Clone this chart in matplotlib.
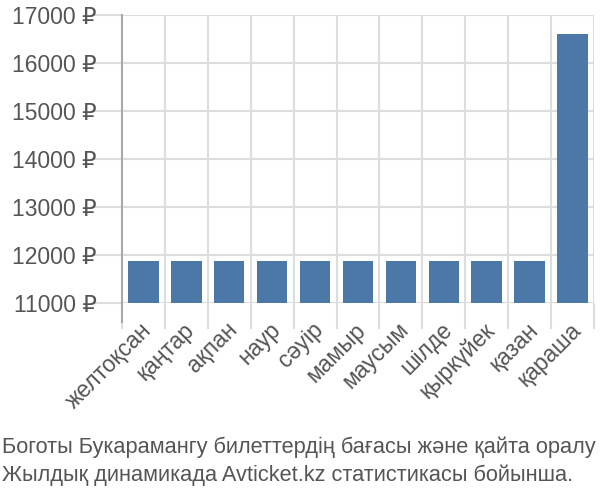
import matplotlib
matplotlib.use("Agg")
import matplotlib.pyplot as plt
import numpy as np

months = ["желтоқсан", "қаңтар", "ақпан", "наур", "сәуір", "мамыр",
          "маусым", "шілде", "қыркүйек", "қазан", "қараша"]
prices = [11870, 11870, 11870, 11870, 11870, 11870, 11870, 11870, 11870, 11870, 16600]
yticks = [11000, 12000, 13000, 14000, 15000, 16000, 17000]
caption = ["Боготы Букарамангу билеттердің бағасы және қайта оралу",
           "Жылдық динамикада Avticket.kz статистикасы бойынша."]

plt.rcParams['font.family'] = ['Liberation Sans', 'DejaVu Sans']
fig = plt.figure(figsize=(6, 5), dpi=100)
ax = fig.add_axes([0.2033, 0.394, 0.7867, 0.576])
x = np.arange(len(months))
base = 11000
ax.bar(x, np.array(prices) - base, bottom=base, width=0.71, color='#4c78a8', zorder=3)
ax.set_xlim(-0.5, len(months) - 0.5)
ax.set_ylim(11000, 17000)
ax.set_yticks(yticks)
ax.set_yticklabels([f"{v} ₽" for v in yticks])
ax.set_xticks(x - 0.08)
ax.set_xticklabels(months, rotation=45, ha='right', va='top', rotation_mode='anchor')
ax.set_xticks(np.arange(len(months) + 1) - 0.5, minor=True)
ax.tick_params(axis='x', which='major', length=0, pad=11, labelsize=16.5, labelcolor='#555555')
ax.tick_params(axis='x', which='minor', length=19, color='#dddddd', width=1.5)
ax.tick_params(axis='y', which='major', length=22, color='#dddddd', width=1.5, labelsize=16.5, labelcolor='#555555', pad=-4)
ax.grid(True, axis='y', which='major', color='#dddddd', linewidth=1.5, zorder=0)
ax.grid(True, axis='x', which='minor', color='#dddddd', linewidth=1.5, zorder=0)
for s in ['top', 'right', 'bottom']:
    ax.spines[s].set_visible(False)
ax.spines['left'].set_color('#aaaaaa')
ax.spines['left'].set_linewidth(1.5)
ax.spines['left'].set_bounds(11000, 17000)
ax.plot([-0.5, -0.5], [0, -0.066], transform=ax.get_xaxis_transform(), color='#aaaaaa', lw=1.5, clip_on=False, zorder=4)

fig.text(0.003, 1 - 447/500, caption[0], fontsize=15.7, color='#555555', va='center', ha='left')
fig.text(0.003, 1 - 475/500, caption[1], fontsize=15.7, color='#555555', va='center', ha='left')
fig.savefig("out.png", dpi=100)
